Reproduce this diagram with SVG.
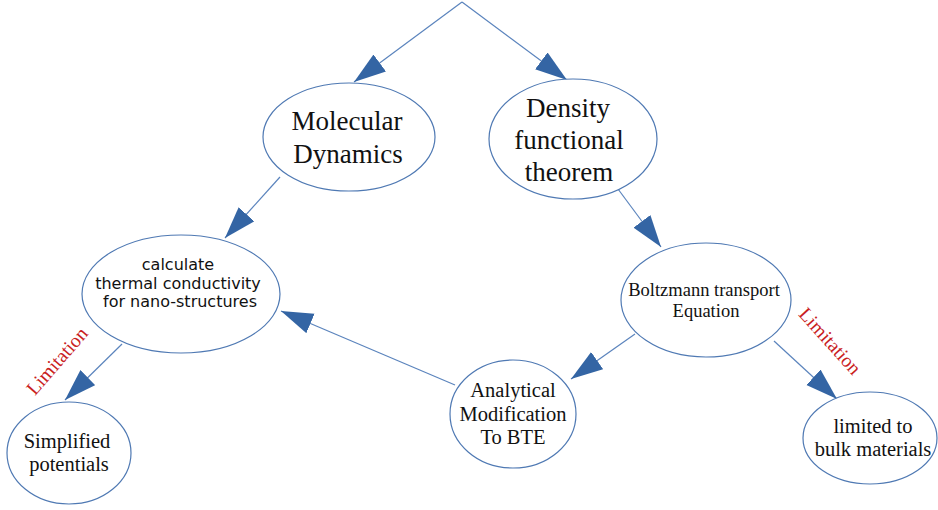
<svg xmlns="http://www.w3.org/2000/svg" width="938" height="510" viewBox="0 0 938 510">
<style>
.node ellipse{fill:#ffffff;stroke:#4f79b3;stroke-width:1.2}
.serif{font-family:"Liberation Serif","Times New Roman",serif;fill:#111111;text-anchor:middle}
.sans{font-family:"DejaVu Sans",sans-serif;fill:#111111;text-anchor:middle;font-size:16px}
.conn line{stroke:#5b84bd;stroke-width:1.2;marker-end:url(#arr)}
.lim{font-family:"Liberation Serif","Times New Roman",serif;fill:#c9211e;font-size:19.5px;text-anchor:middle;dominant-baseline:central}
</style>
<defs>
<marker id="arr" markerUnits="userSpaceOnUse" viewBox="0 -11 32 22" refX="32" refY="0" markerWidth="32" markerHeight="22" orient="auto">
<path d="M0,-10.5 L32,0 L0,10.5 z" fill="#3465a4"/>
</marker>
</defs>
<rect width="938" height="510" fill="#ffffff"/>
<g id="connectors" class="conn">
<line x1="462" y1="2" x2="354" y2="82"/>
<line x1="462" y1="2" x2="567" y2="80"/>
<line x1="280" y1="177" x2="225" y2="238"/>
<line x1="122" y1="344" x2="65" y2="400"/>
<line x1="618" y1="189" x2="661" y2="247"/>
<line x1="635" y1="334" x2="571" y2="379"/>
<line x1="774" y1="341" x2="837" y2="399"/>
<line x1="455" y1="385" x2="281" y2="311"/>
</g>
<g id="md" class="node">
<ellipse cx="349" cy="137" rx="86" ry="54"/>
<text class="serif" font-size="27" x="347" y="130">Molecular</text>
<text class="serif" font-size="27" x="348" y="163">Dynamics</text>
</g>
<g id="dft" class="node">
<ellipse cx="573" cy="139" rx="84" ry="60"/>
<text class="serif" font-size="27" x="568" y="117">Density</text>
<text class="serif" font-size="27" x="569" y="149">functional</text>
<text class="serif" font-size="27" x="569" y="181">theorem</text>
</g>
<g id="calc" class="node">
<ellipse cx="181" cy="294" rx="99" ry="59"/>
<text class="sans" x="178" y="270">calculate</text>
<text class="sans" x="178" y="289">thermal conductivity</text>
<text class="sans" x="180" y="307">for nano-structures</text>
</g>
<g id="simplified" class="node">
<ellipse cx="69" cy="453" rx="62" ry="51"/>
<text class="serif" font-size="20.5" x="67" y="448">Simplified</text>
<text class="serif" font-size="20.5" x="69" y="471">potentials</text>
</g>
<g id="bte" class="node">
<ellipse cx="706" cy="300" rx="85" ry="57"/>
<text class="serif" font-size="18.5" x="704" y="296">Boltzmann transport</text>
<text class="serif" font-size="18.5" x="706" y="317">Equation</text>
</g>
<g id="analytical" class="node">
<ellipse cx="513" cy="414" rx="63" ry="54"/>
<text class="serif" font-size="20.5" x="513" y="397">Analytical</text>
<text class="serif" font-size="20.5" x="513" y="421">Modification</text>
<text class="serif" font-size="20.5" x="513" y="444">To BTE</text>
</g>
<g id="limited" class="node">
<ellipse cx="870" cy="438" rx="67" ry="46"/>
<text class="serif" font-size="20.5" x="873" y="433">limited to</text>
<text class="serif" font-size="20.5" x="873" y="456">bulk materials</text>
</g>
<text class="lim" transform="translate(57,361) rotate(-49)">Limitation</text>
<text class="lim" transform="translate(830,341) rotate(48)">Limitation</text>
</svg>
